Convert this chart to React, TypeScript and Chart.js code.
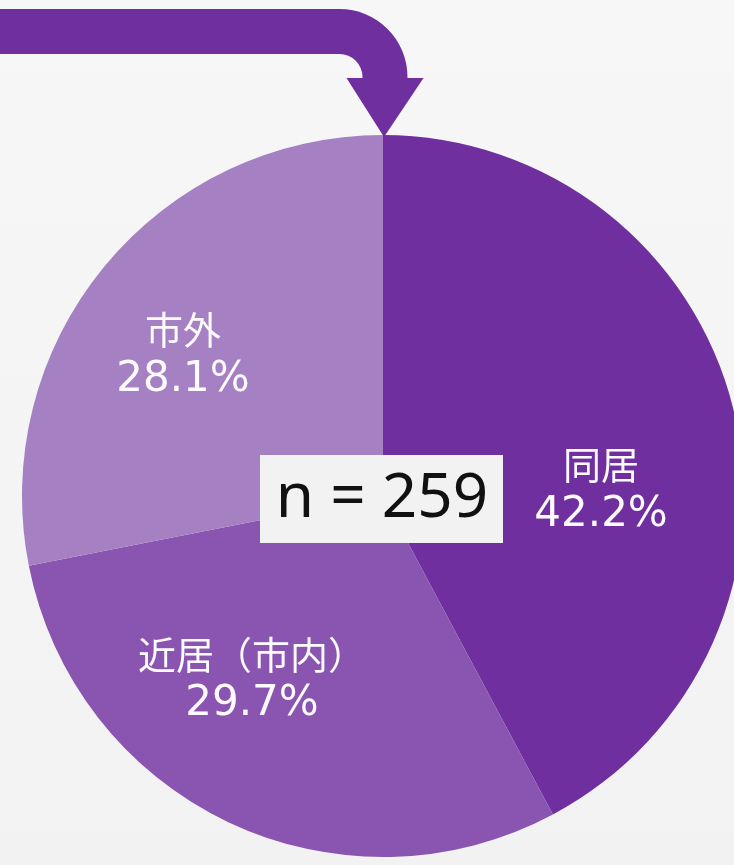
import React, { useEffect, useRef } from "react";
import { Chart, registerables } from "chart.js";

Chart.register(...registerables);

// ---- data ----
const categories = ["同居", "近居（市内）", "市外"];
const percentages = [42.2, 29.7, 28.1];
const sampleSize = 259;
const sliceColors = ["#702F9F", "#8A55B0", "#A580C2"];

// label anchor offsets relative to pie centre, as fractions of the radius
const LABEL_OFFSETS: [number, number][] = [
  [0.604, -0.025],
  [-0.363, 0.499],
  [-0.554, -0.399],
];

const NAME_FONT = "38px 'Noto Sans CJK JP', 'DejaVu Sans', sans-serif";
const PCT_FONT = "42px 'DejaVu Sans', 'Noto Sans CJK JP', sans-serif";
const N_FONT = "62px 'Noto Sans', 'DejaVu Sans', sans-serif";

const decorPlugin = {
  id: "decor",
  beforeDraw(chart: any) {
    const { ctx, width, height } = chart;
    ctx.save();
    const g = ctx.createLinearGradient(0, 0, 0, height);
    g.addColorStop(0, "#f7f7f7");
    g.addColorStop(1, "#f2f2f2");
    ctx.fillStyle = g;
    ctx.fillRect(0, 0, width, height);
    ctx.restore();
  },
  afterDatasetsDraw(chart: any) {
    const { ctx } = chart;
    const meta = chart.getDatasetMeta(0);
    const arc0 = meta.data[0] as any;
    const cx = arc0.x;
    const cy = arc0.y;
    const r = arc0.outerRadius;
    const top = cy - r;

    // arrow pointing at the top of the pie
    const shaftCx = cx + 2;
    const half = 22.5;
    const shaftTop = 9;
    const outerR = 68;
    const innerR = outerR - 2 * half;
    const cornerX = shaftCx + half - outerR;
    const cornerY = shaftTop + outerR;
    const headY = top - 57;
    const headHalf = 38.5;
    ctx.save();
    ctx.fillStyle = sliceColors[0];
    ctx.beginPath();
    ctx.moveTo(0, shaftTop);
    ctx.lineTo(cornerX, shaftTop);
    ctx.arc(cornerX, cornerY, outerR, -Math.PI / 2, 0);
    ctx.lineTo(shaftCx + half, headY);
    ctx.lineTo(shaftCx + headHalf, headY);
    ctx.lineTo(cx + 1, top + 2);
    ctx.lineTo(shaftCx - headHalf, headY);
    ctx.lineTo(shaftCx - half, headY);
    ctx.lineTo(shaftCx - half, cornerY);
    ctx.arc(cornerX, cornerY, innerR, 0, -Math.PI / 2, true);
    ctx.lineTo(0, shaftTop + 2 * half);
    ctx.closePath();
    ctx.fill();
    ctx.restore();

    // slice labels
    ctx.save();
    ctx.fillStyle = "#fdfbff";
    ctx.textAlign = "center";
    ctx.textBaseline = "middle";
    categories.forEach((name, i) => {
      const [fx, fy] = LABEL_OFFSETS[i];
      const lx = cx + fx * r;
      const ly = cy + fy * r;
      ctx.font = NAME_FONT;
      ctx.fillText(name, lx, ly - 22);
      ctx.font = PCT_FONT;
      ctx.fillText(percentages[i].toFixed(1) + "%", lx, ly + 28);
    });
    ctx.restore();

    // n box
    ctx.save();
    const bw = 243;
    const bh = 88;
    const bx = cx - 1.5 - bw / 2;
    const by = cy + 3 - bh / 2;
    ctx.fillStyle = "#f2f2f2";
    ctx.fillRect(bx, by, bw, bh);
    ctx.fillStyle = "#111111";
    ctx.font = N_FONT;
    ctx.textAlign = "center";
    ctx.textBaseline = "middle";
    ctx.fillText("n = " + sampleSize, cx - 1, cy + 3);
    ctx.restore();
  },
};

export default function App() {
  const ref = useRef<HTMLCanvasElement | null>(null);
  useEffect(() => {
    if (!ref.current) return;
    const chart = new Chart(ref.current, {
      type: "pie",
      data: {
        labels: categories,
        datasets: [
          {
            data: percentages,
            backgroundColor: sliceColors,
            borderWidth: 0,
          },
        ],
      },
      options: {
        responsive: false,
        maintainAspectRatio: false,
        devicePixelRatio: 1,
        animation: false,
        layout: { padding: { left: 22, top: 135, right: 16, bottom: 8 } },
        plugins: {
          legend: { display: false },
          tooltip: { enabled: false },
        },
      },
      plugins: [decorPlugin],
    });
    return () => chart.destroy();
  }, []);
  return (
    <div
      style={{
        position: "fixed",
        left: 0,
        top: 0,
        width: 734,
        height: 865,
        overflow: "hidden",
        background: "#f4f4f4",
      }}
    >
      <canvas
        ref={ref}
        width={760}
        height={865}
        style={{ display: "block", width: 760, height: 865 }}
      />
    </div>
  );
}
